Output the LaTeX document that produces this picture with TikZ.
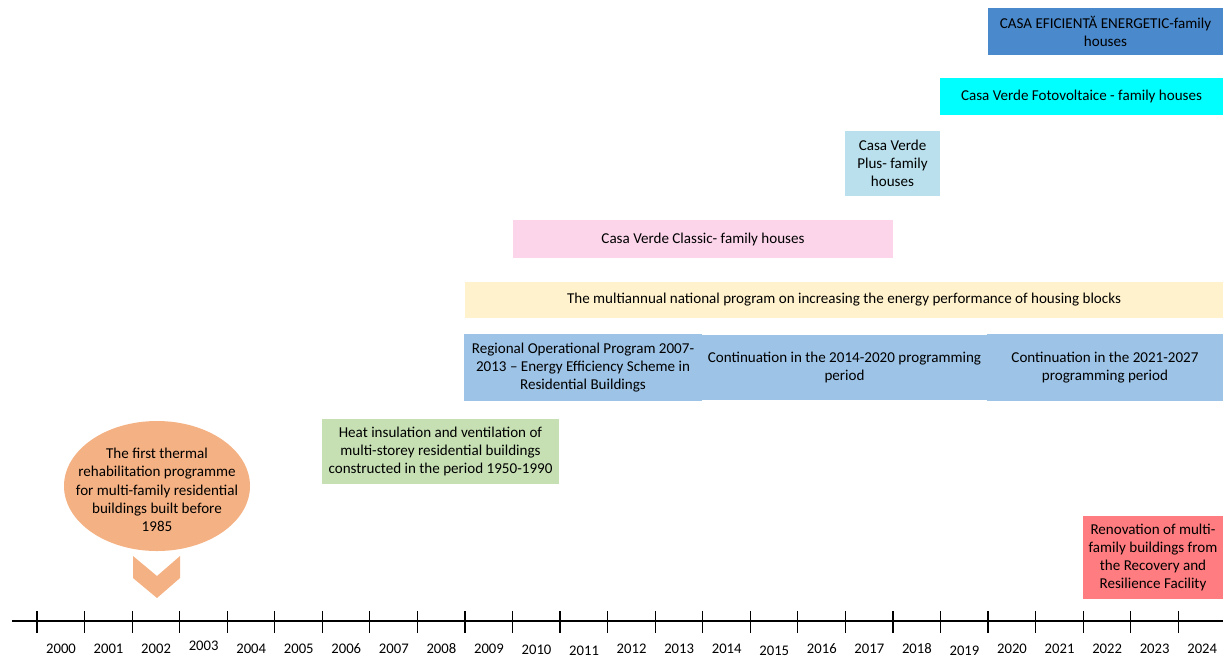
\documentclass[tikz,border=0pt]{standalone}
\usepackage{fontspec}
\setmainfont{Carlito}
\usetikzlibrary{shapes.geometric}
\definecolor{effblue}{RGB}{74,137,204}
\definecolor{cyanbox}{RGB}{0,255,255}
\definecolor{plusblue}{RGB}{185,224,236}
\definecolor{pinkbox}{RGB}{252,213,235}
\definecolor{yellowbox}{RGB}{255,242,204}
\definecolor{midblue}{RGB}{157,195,230}
\definecolor{greenbox}{RGB}{198,224,180}
\definecolor{salmonbox}{RGB}{255,124,128}
\definecolor{orangebox}{RGB}{244,177,131}
\tikzset{
  prog/.style={rectangle, inner sep=0pt, align=center, text=black,
    font=\fontsize{11.3}{13.7}\selectfont},
  yearlbl/.style={inner sep=0pt, font=\fontsize{11}{12}\selectfont},
  axisline/.style={line width=1.1pt, black},
  tickline/.style={line width=0.9pt, black}
}
\begin{document}
\begin{tikzpicture}[x=0.75pt, y=-0.75pt]
\useasboundingbox (0,0) rectangle (1223,658);
% boxes
\node[prog, fill=effblue, minimum width=235*0.75pt, minimum height=47*0.75pt] (eff) at (1105.5,31.5) {CASA EFICIENTĂ ENERGETIC-family\\houses};
\node[prog, fill=cyanbox, minimum width=283*0.75pt, minimum height=37*0.75pt] (foto) at (1081.5,96.5) {Casa Verde Fotovoltaice - family houses};
\node[prog, fill=plusblue, minimum width=95*0.75pt, minimum height=65*0.75pt] (plus) at (892.5,163.5) {Casa Verde\\Plus- family\\houses};
\node[prog, fill=pinkbox, minimum width=380*0.75pt, minimum height=38*0.75pt] (classic) at (703,239) {Casa Verde Classic- family houses};
\node[prog, fill=yellowbox, minimum width=758*0.75pt, minimum height=36*0.75pt] (multi) at (844,300) {The multiannual national program on increasing the energy performance of housing blocks};
\node[prog, fill=midblue, minimum width=238*0.75pt, minimum height=67*0.75pt] (rop) at (583,367.5) {Regional Operational Program 2007-\\2013 – Energy Efficiency Scheme in\\Residential Buildings};
\node[prog, fill=midblue, minimum width=285*0.75pt, minimum height=65*0.75pt] (cont1) at (844.5,367.5) {Continuation in the 2014-2020 programming\\period};
\node[prog, fill=midblue, minimum width=236*0.75pt, minimum height=67*0.75pt] (cont2) at (1105,367.5) {Continuation in the 2021-2027\\programming period};
\node[prog, fill=greenbox, minimum width=237*0.75pt, minimum height=65*0.75pt] (heat) at (440.5,451.5) {Heat insulation and ventilation of\\multi-storey residential buildings\\constructed in the period 1950-1990};
\node[prog, fill=salmonbox, minimum width=140*0.75pt, minimum height=83*0.75pt] (reno) at (1153,557.5) {Renovation of multi-\\family buildings from\\the Recovery and\\Resilience Facility};
\node[ellipse, inner sep=0pt, fill=orangebox, minimum width=186*0.75pt, minimum height=130*0.75pt] (first) at (157,486) {};
\node[prog] (firsttext) at (157,490) {The first thermal\\rehabilitation programme\\for multi-family residential\\buildings built before\\1985};
% chevron
\fill[orangebox] (133,556) -- (157,576) -- (180,556) -- (180,578) -- (157,598) -- (133,578) -- cycle;
% axis
\coordinate (axL) at (12,621);
\coordinate (axR) at (1223,621);
\draw[axisline] (axL) -- (axR);
\foreach \k in {0,...,24} {
  \draw[tickline] ({37+47.55*\k},611) -- ({37+47.55*\k},633);
}
% year labels
\foreach \k/\dy in {0/0,1/0,2/0,3/-3,4/0,5/0,6/0,7/0,8/0,9/0,10/1,11/2,12/0,13/0,14/0,15/2,16/0,17/0,18/0,19/2,20/0,21/0,22/0,23/0,24/0} {
  \pgfmathtruncatemacro{\yr}{2000+\k}
  \node[yearlbl] (y\yr) at ({61+47.55*\k},{649+\dy}) {\yr};
}
\end{tikzpicture}
\end{document}
